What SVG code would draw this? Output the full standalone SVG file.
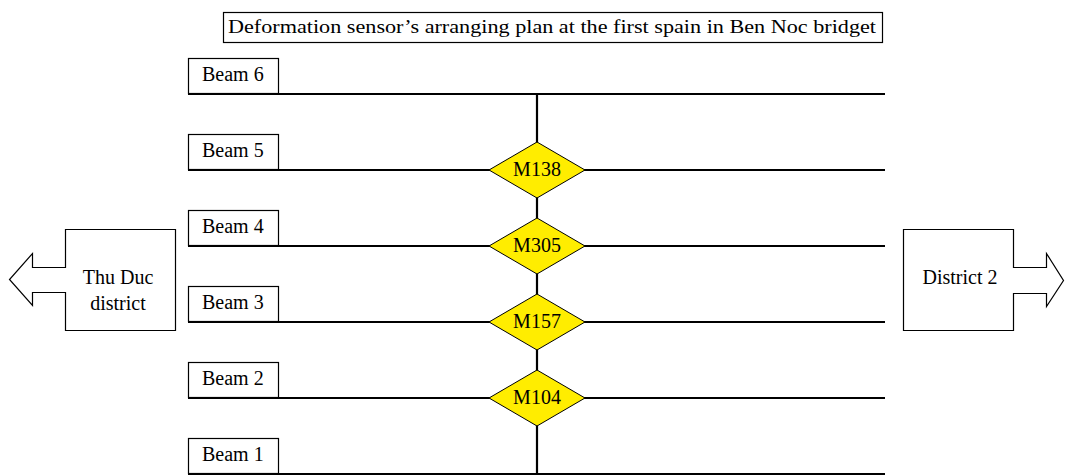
<svg xmlns="http://www.w3.org/2000/svg" width="1065" height="475" viewBox="0 0 1065 475">
<style>
text{font-family:"Liberation Serif","DejaVu Serif",serif;font-size:20px;fill:#000}
.box{fill:#fff;stroke:#000;stroke-width:1.2}
.beam{stroke:#000;stroke-width:2.2;fill:none}
.dia{fill:#ffed00;stroke:#000;stroke-width:1}
.mid{text-anchor:middle}
</style>
<g id="title"><rect class="box" x="223.5" y="12.5" width="659" height="30"/><text x="228" y="33" style="font-size:19px" textLength="648" lengthAdjust="spacingAndGlyphs">Deformation sensor’s arranging plan at the first spain in Ben Noc bridget</text></g>
<g id="connectors">
<line class="beam" x1="537" y1="94" x2="537" y2="475"/>
<line class="beam" x1="188" y1="94" x2="885" y2="94"/>
<line class="beam" x1="188" y1="170" x2="885" y2="170"/>
<line class="beam" x1="188" y1="246" x2="885" y2="246"/>
<line class="beam" x1="188" y1="322" x2="885" y2="322"/>
<line class="beam" x1="188" y1="398" x2="885" y2="398"/>
<line class="beam" x1="188" y1="474" x2="885" y2="474"/>
</g>
<g id="beam6"><rect class="box" x="188.5" y="58.5" width="90" height="35"/><text x="202" y="81">Beam 6</text></g>
<g id="beam5"><rect class="box" x="188.5" y="134.5" width="90" height="35"/><text x="202" y="157">Beam 5</text></g>
<g id="beam4"><rect class="box" x="188.5" y="210.5" width="90" height="35"/><text x="202" y="233">Beam 4</text></g>
<g id="beam3"><rect class="box" x="188.5" y="286.5" width="90" height="35"/><text x="202" y="309">Beam 3</text></g>
<g id="beam2"><rect class="box" x="188.5" y="362.5" width="90" height="35"/><text x="202" y="385">Beam 2</text></g>
<g id="beam1"><rect class="box" x="188.5" y="438.5" width="90" height="35"/><text x="202" y="461">Beam 1</text></g>
<g id="M138"><polygon class="dia" points="537,142 585,170 537,198 489,170"/><text class="mid" x="537" y="176">M138</text></g>
<g id="M305"><polygon class="dia" points="537,218 585,246 537,274 489,246"/><text class="mid" x="537" y="252">M305</text></g>
<g id="M157"><polygon class="dia" points="537,294 585,322 537,350 489,322"/><text class="mid" x="537" y="328">M157</text></g>
<g id="M104"><polygon class="dia" points="537,370 585,398 537,426 489,398"/><text class="mid" x="537" y="404">M104</text></g>
<g id="thuduc"><polygon class="box" points="175.5,229.5 65.5,229.5 65.5,267.5 32.5,267.5 32.5,253.5 9.5,279.5 32.5,305.5 32.5,292.5 65.5,292.5 65.5,330.5 175.5,330.5"/><text class="mid" x="118" y="284">Thu Duc</text><text class="mid" x="118" y="310">district</text></g>
<g id="district2"><polygon class="box" points="903.5,229.5 1013.5,229.5 1013.5,267.5 1046.5,267.5 1046.5,253.5 1063.5,280.5 1046.5,306.5 1046.5,293.5 1013.5,293.5 1013.5,330.5 903.5,330.5"/><text class="mid" x="960" y="284">District 2</text></g>
</svg>
